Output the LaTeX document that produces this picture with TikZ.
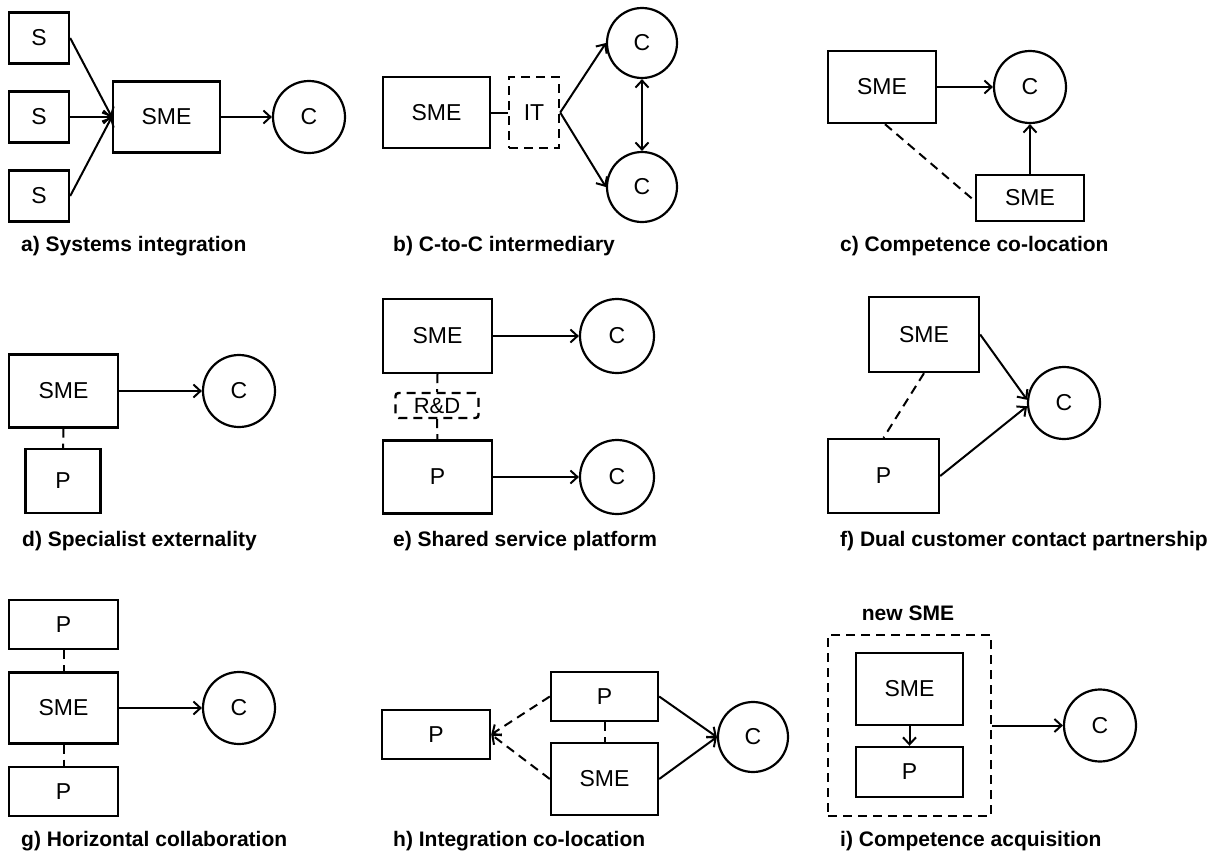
\documentclass[tikz,border=0pt]{standalone}
\usepackage{fontspec}
\setmainfont{Liberation Sans}
\usetikzlibrary{arrows.meta}
\begin{document}
\begin{tikzpicture}[x=1pt,y=-1pt,
 bx/.style={draw, line width=2.4pt, inner sep=0pt, font=\fontsize{23}{27}\selectfont},
 dbx/.style={bx, dash pattern=on 9pt off 6pt},
 cc/.style={draw, circle, line width=2.2pt, inner sep=0pt, minimum size=72pt, font=\fontsize{23}{27}\selectfont},
 arr/.style={line width=2pt, -{Straight Barb[length=7pt,width=13pt]}},
 darr/.style={line width=2pt, {Straight Barb[length=7pt,width=13pt]}-{Straight Barb[length=7pt,width=13pt]}},
 dl/.style={line width=2pt, dash pattern=on 9pt off 6pt},
 captxt/.style={anchor=base west, inner sep=0pt, font=\fontsize{21}{25}\selectfont\bfseries},
]
\useasboundingbox[fill=white] (0,0) rectangle (1213,854);

% a) Systems integration
\node[bx, minimum width=60pt, minimum height=51pt] (aS1) at (39,38) {S};
\node[bx, minimum width=60pt, minimum height=51pt] (aS2) at (39,117) {S};
\node[bx, minimum width=60pt, minimum height=51pt] (aS3) at (39,196) {S};
\node[bx, minimum width=107pt, minimum height=71pt] (aSME) at (166.5,117) {SME};
\node[cc] (aC) at (309,117) {C};
\draw[arr] (aS1.east) -- (aSME.west);
\draw[arr] (aS2.east) -- (aSME.west);
\draw[arr] (aS3.east) -- (aSME.west);
\draw[arr] (aSME.east) -- (aC.west);
\node[captxt] (acap) at (21,251) {a) Systems integration};

% b) C-to-C intermediary
\node[bx, minimum width=107pt, minimum height=71pt] (bSME) at (436.5,112.5) {SME};
\node[dbx, minimum width=50pt, minimum height=71pt] (bIT) at (534,112.5) {IT};
\node[cc, minimum size=70pt] (bCt) at (642,43) {C};
\node[cc, minimum size=70pt] (bCb) at (642,187) {C};
\draw[line width=2pt] (bSME.east) -- (bIT.west);
\draw[arr] (bIT.east) -- (bCt.west);
\draw[arr] (bIT.east) -- (bCb.west);
\draw[darr] (bCt.south) -- (bCb.north);
\node[captxt] (bcap) at (393,251) {b) C-to-C intermediary};

% c) Competence co-location
\node[bx, minimum width=108pt, minimum height=72pt] (cSME1) at (882,87) {SME};
\node[cc] (cC) at (1030,87) {C};
\node[bx, minimum width=108pt, minimum height=46pt] (cSME2) at (1030,198) {SME};
\draw[arr] (cSME1.east) -- (cC.west);
\draw[arr] (cSME2.north) -- (cC.south);
\draw[dl] ([xshift=3pt]cSME1.south) -- ([yshift=-3pt]cSME2.west);
\node[captxt] (ccap) at (840,251) {c) Competence co-location};

% d) Specialist externality
\node[bx, minimum width=109pt, minimum height=73pt] (dSME) at (63.5,391) {SME};
\node[cc] (dC) at (239,391) {C};
\node[bx, minimum width=75pt, minimum height=64pt] (dP) at (63,481) {P};
\draw[arr] (dSME.east) -- (dC.west);
\draw[dl] (dSME.south) -- (dP.north);
\node[captxt] (dcap) at (22,546) {d) Specialist externality};

% e) Shared service platform
\node[bx, minimum width=109pt, minimum height=74pt] (eSME) at (437.5,336) {SME};
\node[cc, minimum size=74pt] (eCt) at (617,336) {C};
\node[dbx, rounded corners=3pt, minimum width=83pt, minimum height=25pt, font=\fontsize{22}{26}\selectfont] (eRD) at (437,405.5) {R\&D};
\node[bx, minimum width=109pt, minimum height=73pt] (eP) at (437.5,477) {P};
\node[cc, minimum size=74pt] (eCb) at (617,477) {C};
\draw[arr] (eSME.east) -- (eCt.west);
\draw[arr] (eP.east) -- (eCb.west);
\draw[dl] (eSME.south) -- (eRD.north);
\draw[dl] (eRD.south) -- (eP.north);
\node[captxt] (ecap) at (393,546) {e) Shared service platform};

% f) Dual customer contact partnership
\node[bx, minimum width=110pt, minimum height=75pt] (fSME) at (924,334.5) {SME};
\node[cc] (fC) at (1064,403) {C};
\node[bx, minimum width=111pt, minimum height=74pt] (fP) at (883.5,476) {P};
\draw[arr] (fSME.east) -- (fC.175);
\draw[arr] (fP.east) -- (fC.185);
\draw[dl] (fSME.south) -- (fP.north);
\node[captxt] (fcap) at (840,546) {f) Dual customer contact partnership};

% g) Horizontal collaboration
\node[bx, minimum width=109pt, minimum height=49pt] (gPt) at (63.5,624.5) {P};
\node[bx, minimum width=109pt, minimum height=71pt] (gSME) at (63.5,708) {SME};
\node[bx, minimum width=109pt, minimum height=49pt] (gPb) at (63.5,791.5) {P};
\node[cc] (gC) at (239,708) {C};
\draw[arr] (gSME.east) -- (gC.west);
\draw[dl] (gPt.south) -- (gSME.north);
\draw[dl] (gSME.south) -- (gPb.north);
\node[captxt] (gcap) at (21,846) {g) Horizontal collaboration};

% h) Integration co-location
\node[bx, minimum width=108pt, minimum height=49pt] (hPl) at (436,734.5) {P};
\node[bx, minimum width=107pt, minimum height=49pt] (hPt) at (604.5,696.5) {P};
\node[bx, minimum width=107pt, minimum height=72pt] (hSME) at (604.5,779) {SME};
\node[cc, minimum size=70pt] (hC) at (753,737) {C};
\draw[dl, -{Straight Barb[length=7pt,width=13pt]}] (hPt.west) -- (hPl.east);
\draw[dl, -{Straight Barb[length=7pt,width=13pt]}] (hSME.west) -- (hPl.east);
\draw[dl] (hPt.south) -- (hSME.north);
\draw[arr] (hPt.east) -- (hC.west);
\draw[arr] (hSME.east) -- (hC.west);
\node[captxt] (hcap) at (393,846) {h) Integration co-location};

% i) Competence acquisition
\node[dbx, minimum width=163pt, minimum height=181pt] (iBox) at (909.5,725.5) {};
\node[anchor=base, inner sep=0pt, font=\fontsize{21}{25}\selectfont\bfseries] (iNew) at (908,620) {new SME};
\node[bx, minimum width=107pt, minimum height=72pt] (iSME) at (909.5,689) {SME};
\node[bx, minimum width=107pt, minimum height=50pt] (iP) at (909.5,772) {P};
\node[cc] (iC) at (1100,725.5) {C};
\draw[arr] (iSME.south) -- (iP.north);
\draw[arr] (iBox.east) -- (iC.west);
\node[captxt] (icap) at (840,846) {i) Competence acquisition};
\end{tikzpicture}
\end{document}
